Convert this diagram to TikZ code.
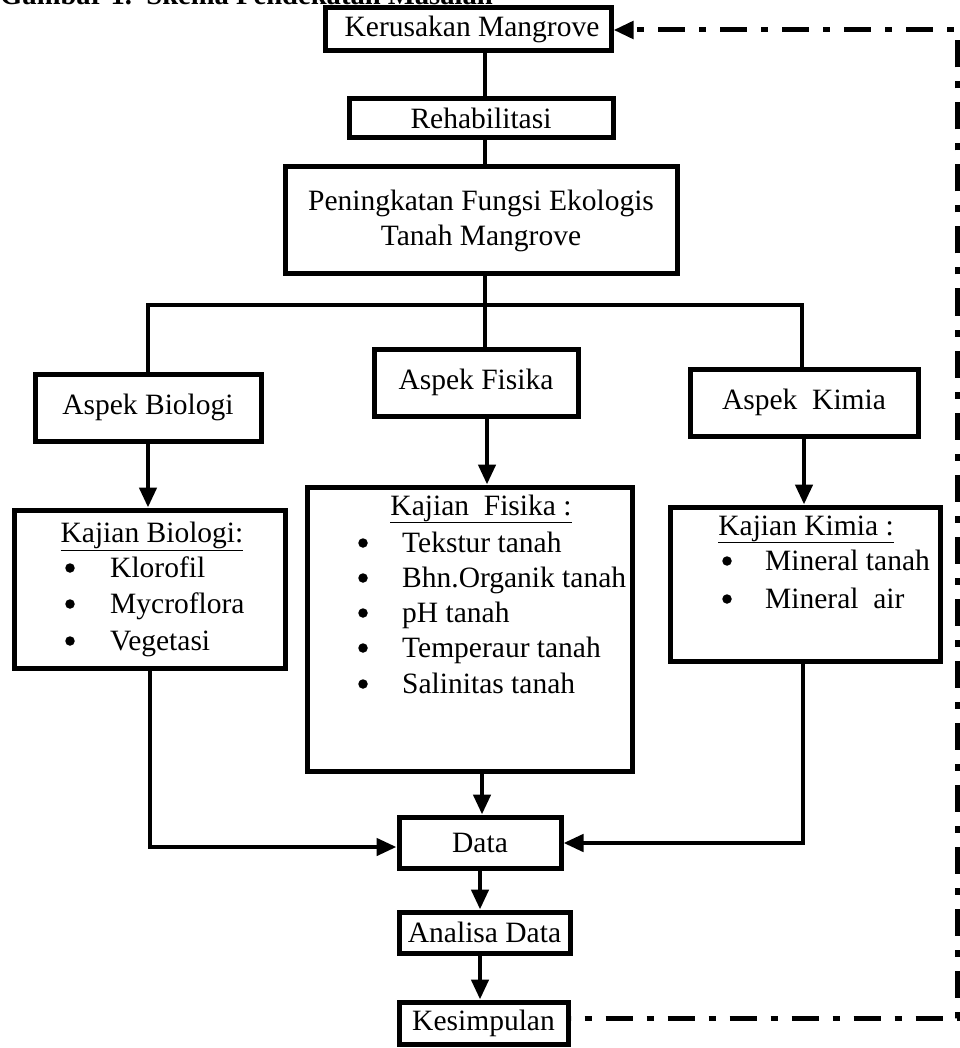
\documentclass[tikz,border=0pt]{standalone}
\usepackage{fontspec}
\setmainfont{Liberation Serif}
\usetikzlibrary{arrows.meta}
\begin{document}
\begin{tikzpicture}[x=1pt,y=-1pt,
  box/.style={draw, line width=5pt, inner sep=0pt, align=center,
    font=\fontsize{29.5}{35}\selectfont},
  conn/.style={line width=4.5pt},
  arr/.style={conn, -{Triangle[width=17pt,length=20pt]}},
  dashconn/.style={line width=5pt, dash pattern=on 7pt off 14pt on 27pt off 14pt,
    dash phase=48pt, -{Triangle[width=17pt,length=20pt]}},
  head/.style={anchor=base, inner sep=0pt, font=\fontsize{29.5}{35}\selectfont},
  itm/.style={anchor=base west, inner sep=0pt, font=\fontsize{29.5}{35}\selectfont},
  bul/.style={circle, fill, inner sep=0pt, minimum size=9.5pt}]
\useasboundingbox (0,0) rectangle (959,1048);

% caption (cut off at the top of the picture, as in the reference)
\node[anchor=base west, inner sep=0pt, font=\fontsize{28.6}{30}\selectfont\bfseries]
  (cap) at (0,5) {Gambar 1.\ \ Skema Pendekatan Masalah};

% boxes
\node[box, minimum width=286pt, minimum height=43pt] (ker) at (468,29.5) {\hspace*{8pt}Kerusakan Mangrove};
\node[box, minimum width=264pt, minimum height=39pt] (reh) at (481,118.5) {Rehabilitasi};
\node[box, minimum width=392pt, minimum height=107pt] (pen) at (481,220.5)
  {Peningkatan Fungsi Ekologis\\Tanah Mangrove};
\node[box, minimum width=226pt, minimum height=67pt] (bio) at (148,407.5) {Aspek Biologi};
\node[box, minimum width=204pt, minimum height=67pt] (fis) at (476,382.5) {Aspek Fisika};
\node[box, minimum width=228pt, minimum height=67pt] (kim) at (804,402.5) {Aspek~~Kimia};
\node[box, minimum width=271pt, minimum height=158pt] (kbio) at (149.5,589) {};
\node[box, minimum width=325pt, minimum height=284pt] (kfis) at (469.5,629) {};
\node[box, minimum width=270pt, minimum height=154pt] (kkim) at (805,584) {};
\node[box, minimum width=162pt, minimum height=51pt] (data) at (480,842.5) {Data};
\node[box, minimum width=171pt, minimum height=41pt] (ana) at (484.5,932.5) {Analisa Data};
\node[box, minimum width=169pt, minimum height=42pt] (kes) at (483.5,1023) {Kesimpulan};

% Kajian Biologi contents
\node[head] (hbio) at (152,542) {\underline{Kajian Biologi:}};
\node[bul] (b1) at (70,568) {};
\node[bul] (b2) at (70,604) {};
\node[bul] (b3) at (70,641) {};
\node[itm] (i1) at (110,577) {Klorofil};
\node[itm] (i2) at (110,613) {Mycroflora};
\node[itm] (i3) at (110,650) {Vegetasi};

% Kajian Fisika contents
\node[head] (hfis) at (481,515) {\underline{Kajian\ \ Fisika :}};
\node[bul] (f1) at (363,543) {};
\node[bul] (f2) at (363,578) {};
\node[bul] (f3) at (363,613) {};
\node[bul] (f4) at (363,648) {};
\node[bul] (f5) at (363,684) {};
\node[itm] (j1) at (402,552) {Tekstur tanah};
\node[itm] (j2) at (402,587) {Bhn.Organik tanah};
\node[itm] (j3) at (402,622) {pH tanah};
\node[itm] (j4) at (402,657) {Temperaur tanah};
\node[itm] (j5) at (402,693) {Salinitas tanah};

% Kajian Kimia contents
\node[head] (hkim) at (806,535) {\underline{Kajian Kimia :}};
\node[bul] (k1) at (727,561) {};
\node[bul] (k2) at (727,599) {};
\node[itm] (m1) at (765,570) {Mineral tanah};
\node[itm] (m2) at (765,608) {Mineral~~air};

% helper coordinates
\coordinate (mainx) at (485,305);
\coordinate (jl) at (148,305);
\coordinate (jr) at (802,305);
\coordinate (fx) at (487,0);
\coordinate (dx) at (482,0);
\coordinate (ax) at (480,0);
\coordinate (bl) at (150,847);
\coordinate (br) at (803,843);
\coordinate (dbr) at (957,1018);
\coordinate (dtr) at (957,30);

% connectors
\draw[conn] (ker.south -| mainx) -- (reh.north -| mainx);
\draw[conn] (reh.south -| mainx) -- (pen.north -| mainx);
\draw[conn] (pen.south -| mainx) -- (fis.north -| mainx);
\draw[conn] (bio.north -| jl) -- (jl) -- (jr) -- (kim.north -| jr);
\draw[arr] (bio.south) -- (bio.south |- kbio.north);
\draw[arr] (fis.south -| fx) -- (kfis.north -| fx);
\draw[arr] (kim.south) -- (kim.south |- kkim.north);
\draw[arr] (kbio.south -| bl) -- (bl) -- (data.west |- bl);
\draw[arr] (kfis.south -| dx) -- (data.north -| dx);
\draw[arr] (kkim.south -| br) -- (br) -- (data.east |- br);
\draw[arr] (data.south -| ax) -- (ana.north -| ax);
\draw[arr] (ana.south -| ax) -- (kes.north -| ax);
\draw[dashconn] (kes.east |- dbr) -- (dbr) -- (dtr) -- (ker.east |- dtr);
\end{tikzpicture}
\end{document}
